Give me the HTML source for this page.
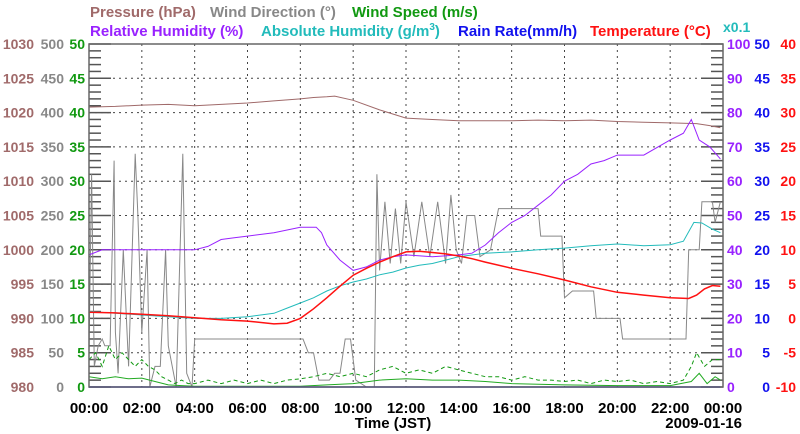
<!DOCTYPE html>
<html><head><meta charset="utf-8">
<style>
html,body{margin:0;padding:0;background:#fff;}
svg{display:block;font-family:"Liberation Sans",sans-serif;font-weight:bold;}
</style></head>
<body>
<svg id="chart" width="800" height="434" viewBox="0 0 800 434" xmlns="http://www.w3.org/2000/svg">
  <g font-size="15">
    <text x="90" y="17" fill="#a06a6a">Pressure (hPa)</text>
    <text x="210" y="17" fill="#888">Wind Direction (°)</text>
    <text x="352" y="17" fill="#119911">Wind Speed (m/s)</text>
    <text x="90" y="36" fill="#9922ff">Relative Humidity (%)</text>
    <text x="261" y="36" fill="#22bbbb">Absolute Humidity (g/m<tspan font-size="10" dy="-6">3</tspan><tspan dy="6">)</tspan></text>
    <text x="458" y="36" fill="#1111ee">Rain Rate(mm/h)</text>
    <text x="590" y="36" fill="#ff1111">Temperature (°C)</text>
    <text x="723" y="32" fill="#22bbbb" font-size="14">x0.1</text>
  </g>
  <g id="grid"></g>
  <g id="axes"></g>
  <g id="series"></g>
  <rect x="89" y="44" width="634" height="343" fill="none" stroke="#666" stroke-width="1.5"/>
  <text x="393" y="428" font-size="15" text-anchor="middle">Time (JST)</text>
  <text x="742" y="428" font-size="15" text-anchor="end">2009-01-16</text>
</svg>
<script>
const NS="http://www.w3.org/2000/svg";
const L=89,R=723,T=44,B=387;
function xs(h){return L+(R-L)*h/24;}
function yf(f){return B-(B-T)*f;}
const yP=v=>yf((v-980)/50), yWD=v=>yf(v/500), yWS=v=>yf(v/50), yRH=v=>yf(v/100), yAH=v=>yf(v/10), yRain=v=>yf(v/50), yT=v=>yf((v+10)/50);

// Tick labels
const xTickLabels=["00:00","02:00","04:00","06:00","08:00","10:00","12:00","14:00","16:00","18:00","20:00","22:00","00:00"];
const pressureTicks=[980,985,990,995,1000,1005,1010,1015,1020,1025,1030];
const windDirTicks=[0,50,100,150,200,250,300,350,400,450,500];
const windSpeedTicks=[0,5,10,15,20,25,30,35,40,45,50];
const rhTicks=[0,10,20,30,40,50,60,70,80,90,100];
const rainTicks=[0,5,10,15,20,25,30,35,40,45,50];
const tempTicks=[-10,-5,0,5,10,15,20,25,30,35,40];

// Series data (hours)
const pressureTimes=[0,1,2,3,4,5,6,7,8,8.5,9,9.3,10,11,12,13,14,15,16,17,18,19,20,21,22,23,23.5,23.9];
const pressureValues=[1020.8,1020.9,1021.1,1021.2,1021.0,1021.2,1021.4,1021.7,1022.0,1022.2,1022.3,1022.4,1021.8,1020.4,1019.2,1019.0,1018.8,1018.8,1018.8,1018.9,1018.8,1018.9,1018.7,1018.6,1018.5,1018.4,1018.1,1017.8];
const tempTimes=[0,1,2,3,4,5,6,7,7.5,8,8.5,9,9.5,10,10.5,11,11.5,12,12.5,13,13.5,14,14.5,15,16,17,18,19,20,21,22,22.7,23,23.3,23.6,23.9];
const tempValues=[0.9,0.8,0.6,0.4,0.1,-0.2,-0.4,-0.8,-0.7,0,1.4,3,4.7,6.3,7.3,8.2,9,9.7,9.8,9.6,9.4,9.1,8.7,8.2,7.3,6.5,5.6,4.6,3.8,3.4,3.0,2.9,3.4,4.3,4.8,4.7];
const rhTimes=[0,0.5,1,2,3,4,4.5,5,5.5,6,7,8,8.6,8.8,9,9.5,10,10.5,11,11.5,12,13,14,14.5,15,15.5,16,16.5,17,17.5,18,18.5,19,19.5,20,21,22,22.5,22.8,23.1,23.5,23.9];
const rhValues=[38.5,40,40,40,40,40,41,43,43.5,44,45,46.6,46.6,45,41.4,37,34,35,37,38,38.5,38,38.5,39,41.4,45,48,50,53,56,60,62,65,66,67.6,67.6,72,74,78,72,70,66.5];
const ahTimes=[0,1,2,3,4,5,6,7,7.5,8,8.5,9,9.5,10,10.5,11,11.5,12,12.5,13,13.5,14,15,16,17,18,19,20,21,22,22.5,22.9,23.2,23.6,23.9];
const ahValues=[2.2,2.15,2.1,2.05,2.0,2.0,2.05,2.15,2.3,2.45,2.6,2.8,2.95,3.06,3.15,3.27,3.35,3.47,3.55,3.6,3.7,3.8,3.9,3.94,4.0,4.05,4.12,4.17,4.12,4.15,4.25,4.8,4.78,4.6,4.5];
const wdTimes=[0,0.1,0.2,0.35,0.5,0.6,0.8,0.95,1.0,1.1,1.3,1.5,1.75,1.85,2.0,2.2,2.3,2.5,2.7,2.9,3.0,3.3,3.55,3.7,3.9,4.0,8.1,8.3,8.5,8.7,9.1,9.3,9.5,9.7,9.9,10.1,10.5,10.8,10.9,11.0,11.2,11.4,11.6,11.8,12.0,12.3,12.6,12.9,13.2,13.5,13.7,13.9,14.1,14.3,14.6,14.8,15.2,15.5,17.0,17.1,17.9,18.0,18.3,19.1,19.2,20.1,20.2,22.6,22.7,23.1,23.2,23.6,23.7,23.9];
const wdValues=[50,310,30,60,70,60,60,330,80,20,200,30,340,250,80,200,0,30,30,200,60,0,340,20,0,70,70,50,50,10,10,20,20,70,70,10,0,0,310,170,270,180,260,180,270,190,270,190,270,180,280,200,180,250,250,190,200,260,260,220,220,130,140,140,100,100,70,70,200,200,270,270,240,270];
const gustTimes=[0,0.25,0.5,0.75,1,1.25,1.5,1.75,2,2.25,2.5,2.75,3,3.25,3.5,3.75,4,4.5,5,5.5,6,6.5,7,7.5,8,8.5,9,9.5,10,10.5,11,11.5,12,12.5,13,13.5,14,14.5,15,15.5,16,16.5,17,17.5,18,18.5,19,19.5,20,20.5,21,21.5,22,22.5,22.8,23,23.3,23.6,23.9];
const gustValues=[4,5,3,6,4,5,4,3,4,3,2.5,1.5,1,0.5,1,0.5,0.5,1,0.5,1,0.5,1,0.5,1,1.2,1.5,2,1.5,2,1.5,2.5,3,2,2.5,2,3,2.5,2,1.5,1.5,1,1.5,1,1,0.8,1,0.5,1,0.8,1,0.5,0.8,0.5,1,3,5,3,4,4];
const meanTimes=[0,0.5,1,1.5,2,2.5,3,3.5,4,6,8,9,10,11,12,13,14,15,16,18,20,22,22.8,23.1,23.4,23.7,23.9];
const meanValues=[1.5,1.2,1.5,1.2,1.3,0.8,0.3,0.2,0.1,0.1,0.1,0.3,0.5,1,1.2,1,1,0.8,0.5,0.3,0.2,0.2,0.8,2,0.5,1.5,1];
const rainTimes=[0,23.9];
const rainValues=[0,0];

function el(tag,attrs,parent){const e=document.createElementNS(NS,tag);for(const k in attrs)e.setAttribute(k,attrs[k]);parent.appendChild(e);return e;}
const grid=document.getElementById('grid'),axes=document.getElementById('axes'),series=document.getElementById('series');

for(let i=1;i<12;i++){const g=el('line',{x1:xs(i*2),x2:xs(i*2),y1:T,y2:B,stroke:'#444','stroke-dasharray':'2,4'},grid);

}
for(let i=1;i<10;i++){const g=el('line',{x1:L,x2:R,y1:yf(i/10),y2:yf(i/10),stroke:'#444','stroke-dasharray':'2,4'},grid);

}
for(let i=0;i<=50;i++){const y=yf(i/50);const len=i%5===0?22:12;
const a=el('line',{x1:L,x2:L+len,y1:y,y2:y,stroke:'#555','stroke-width':1.5},axes);


const b=el('line',{x1:R-len,x2:R,y1:y,y2:y,stroke:'#555','stroke-width':1.5},axes);

}

function labels(arr,scale,x,anchor,color,name){arr.forEach(v=>{const t=el('text',{x:x,y:scale(v)+5,'text-anchor':anchor,fill:color,'font-size':14},axes);t.textContent=v;

});}
labels(pressureTicks,yP,34,'end','#a06a6a','pressure-tick-label');
labels(windDirTicks,yWD,64,'end','#888','wind-direction-tick-label');
labels(windSpeedTicks,yWS,85,'end','#119911','wind-speed-tick-label');
labels(rhTicks,yRH,727,'start','#9922ff','rh-tick-label');
labels(rainTicks,yRain,770,'end','#1111ee','rain-tick-label');
labels(tempTicks,yT,796,'end','#ff1111','temperature-tick-label');
xTickLabels.forEach((s,i)=>{const t=el('text',{x:xs(i*2),y:413,'text-anchor':'middle',fill:'#000','font-size':15},axes);t.textContent=s;

});

function line(times,vals,scale,color,name,extra){const d=times.map((t,i)=>(i?'L':'M')+xs(t).toFixed(1)+','+scale(vals[i]).toFixed(1)).join('');
const p=el('path',Object.assign({d:d,fill:'none',stroke:color,'stroke-width':1},extra||{}),series);

}
line(wdTimes,wdValues,yWD,'#888','wind-direction-line');
line(gustTimes,gustValues,yWS,'#119911','wind-gust-line',{'stroke-dasharray':'4,3'});
line(meanTimes,meanValues,yWS,'#22aa22','wind-speed-line');
line(rainTimes,rainValues,yRain,'#1111ee','rain-rate-line',{'stroke-width':1.5});
line(pressureTimes,pressureValues,yP,'#a06a6a','pressure-line');
line(ahTimes,ahValues,yAH,'#22bbbb','absolute-humidity-line');
line(rhTimes,rhValues,yRH,'#9922ff','relative-humidity-line');
line(tempTimes,tempValues,yT,'#ff1111','temperature-line',{'stroke-width':1.5});
</script>
</body></html>
